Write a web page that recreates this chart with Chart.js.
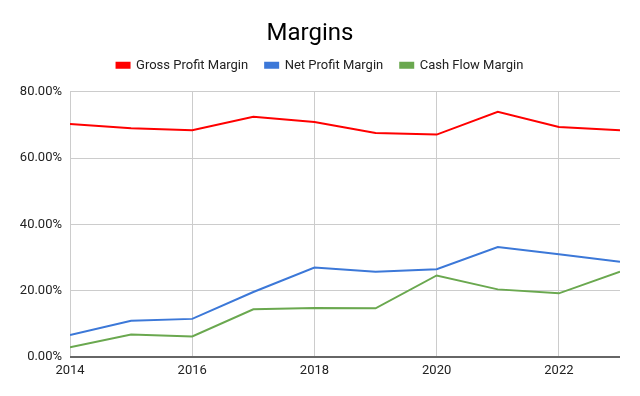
<!DOCTYPE html>
<html>
<head>
<meta charset="utf-8">
<script src="https://cdn.jsdelivr.net/npm/chart.js@4"></script>
<style>
  html, body { margin: 0; padding: 0; background: #fff; }
  #wrap { width: 640px; height: 396px; }
</style>
</head>
<body>
<div id="wrap"><canvas id="myChart" width="640" height="396"></canvas></div>
<script>
// years on the x axis
var years = [2014, 2015, 2016, 2017, 2018, 2019, 2020, 2021, 2022, 2023];
var xTicks = [2014, 2016, 2018, 2020, 2022];
// margins in percent
var grossMargin = [70.3, 69.0, 68.4, 72.5, 70.9, 67.6, 67.1, 74.0, 69.4, 68.4];
var netMargin = [6.6, 10.9, 11.5, 19.6, 27.0, 25.7, 26.5, 33.2, 31.0, 28.7];
var cashMargin = [2.9, 6.8, 6.2, 14.4, 14.8, 14.7, 24.6, 20.4, 19.2, 25.7];
var yTicks = [0, 20, 40, 60, 80];

function pts(vals) {
	return years.map(function (y, i) { return { x: y, y: vals[i] }; });
}

function series(label, vals, color) {
	return {
		label: label,
		data: pts(vals),
		borderColor: color,
		backgroundColor: color,
		borderWidth: 2,
		pointRadius: 0,
		tension: 0
	};
}

// leave a bit more room under the legend, and nudge it to the page centre
var legendGap = {
	id: 'legendGap',
	beforeUpdate: function (chart) {
		var lg = chart.legend;
		if (lg && !lg._gapDone) {
			var fit = lg.fit;
			lg.fit = function () {
				fit.call(this);
				this.height += 10;
				if (this.lineWidths && this.lineWidths.length) this.lineWidths[0] -= 20;
			};
			lg._gapDone = true;
		}
	}
};

Chart.defaults.font.family = "Roboto, Arial, sans-serif";
Chart.defaults.color = "#444";

var ctx = document.getElementById('myChart');
var myChart = new Chart(ctx, {
	type: 'line',
	data: {
		datasets: [
			series('Gross Profit Margin', grossMargin, '#ff0000'),
			series('Net Profit Margin', netMargin, '#3c78d8'),
			series('Cash Flow Margin', cashMargin, '#6aa84f')
		]
	},
	plugins: [legendGap],
	options: {
		responsive: false,
		animation: false,
		layout: { padding: { left: 0, right: 20, top: 0, bottom: 0 } },
		plugins: {
			title: {
				display: true,
				text: 'Margins',
				color: '#000',
				font: { size: 24, weight: 'normal' },
				padding: { top: 20, bottom: -7 }
			},
			legend: {
				labels: {
					boxWidth: 13,
					boxHeight: 5,
					color: '#222',
					font: { size: 13 },
					padding: 17
				}
			},
			tooltip: { enabled: false }
		},
		scales: {
			x: {
				type: 'linear',
				min: 2014,
				max: 2023,
				border: { display: false },
				afterBuildTicks: function (s) {
					s.ticks = xTicks.map(function (v) { return { value: v }; });
				},
				grid: { color: '#cccccc', lineWidth: 1, drawTicks: false },
				ticks: {
					padding: 6,
					color: '#222',
					font: { size: 13 },
					callback: function (v) { return String(v); }
				},
				afterFit: function (s) { s.height = 39; }
			},
			y: {
				min: 0,
				max: 80,
				border: { display: false },
				afterBuildTicks: function (s) {
					s.ticks = yTicks.map(function (v) { return { value: v }; });
				},
				grid: {
					drawTicks: false,
					color: function (c) { return c.tick && c.tick.value === 0 ? '#666' : '#cccccc'; },
					lineWidth: function (c) { return c.tick && c.tick.value === 0 ? 2 : 1; }
				},
				ticks: {
					padding: 8,
					color: '#222',
					font: { size: 13 },
					callback: function (v) { return v.toFixed(2) + '%'; }
				},
				afterFit: function (s) { s.width = 70; }
			}
		}
	}
});
</script>
</body>
</html>
